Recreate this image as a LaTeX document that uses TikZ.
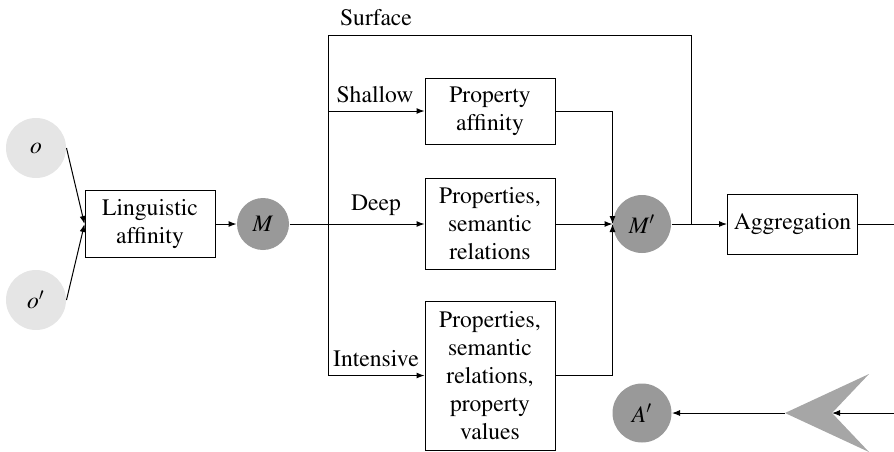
\documentclass[tikz,border=0pt]{standalone}
\usepackage[T1]{fontenc}
\usepackage{mathptmx}
\usetikzlibrary{arrows.meta}
\begin{document}
\begin{tikzpicture}[x=0.5pt,y=-0.5pt, font=\fontsize{11.8}{14}\selectfont, line width=0.5pt,
  box/.style={draw, align=center, minimum width=65pt, inner sep=2pt},
  lite/.style={circle, fill=gray!20, minimum size=30pt, inner sep=0pt},
  dark/.style={circle, fill=gray!80, inner sep=0pt},
  arr/.style={-{Latex[length=4pt,width=3pt]}},
  lbl/.style={inner sep=1pt}]
\useasboundingbox (0,0) rectangle (894,451);
% nodes
\node[lite] (o) at (36,148) {$o$};
\node[lite] (o2) at (36,300) {$o'$};
\node[box, minimum height=33.5pt] (ling) at (150,224) {Linguistic\\affinity};
\node[dark, minimum size=26pt] (M) at (263,224) {$M$};
\node[box, minimum height=33pt] (pa) at (490,111) {Property\\affinity};
\node[box, minimum height=45.5pt] (psr) at (490,224) {Properties,\\semantic\\relations};
\node[box, minimum height=74.5pt] (pv) at (490,375.5) {Properties,\\semantic\\relations,\\property\\values};
\node[dark, minimum size=29pt] (Mp) at (642,224) {$M'$};
\node[box, minimum height=30pt] (agg) at (792.5,224) {Aggregation};
\node[dark, minimum size=29.5pt] (Ap) at (642,413) {$A'$};
% labels
\node[lbl] (lsurf) at (376,18) {Surface};
\node[lbl] (lshal) at (375,95) {Shallow};
\node[lbl] (ldeep) at (376,205) {Deep};
\node[lbl] (lint) at (376,359) {Intensive};
% coordinates
\coordinate (sp) at (328,224);
\coordinate (sl) at (328,35);
\coordinate (sr) at (691,35);
\coordinate (jn) at (691,224);
\coordinate (re1) at (894,224);
\coordinate (re2) at (894,413);
\coordinate (tip) at (785,413);
\coordinate (notch) at (832,413);
% dart
\fill[gray!70] (tip) -- (869,374) -- (notch) -- (869,452) -- cycle;
% connectors
\draw[arr] (o.east) -- (ling.west);
\draw[arr] (o2.east) -- (ling.west);
\draw[arr] (ling) -- (M);
\draw (M.east) -- (sp);
\draw[arr] (sp) |- (pa.west);
\draw[arr] (sp) -- (psr.west);
\draw[arr] (sp) |- (pv.west);
\draw (sp) -- (sl) -- (sr) -- (jn);
\draw[arr] (pa.east) -| (Mp.west);
\draw[arr] (psr.east) -- (Mp.west);
\draw[arr] (pv.east) -| (Mp.west);
\draw[arr] (Mp.east) -- (agg.west);
\draw (agg.east) -- (re1);
\draw[arr] (re2) -- (notch);
\draw[arr] (tip) -- (Ap.east);
\end{tikzpicture}
\end{document}
